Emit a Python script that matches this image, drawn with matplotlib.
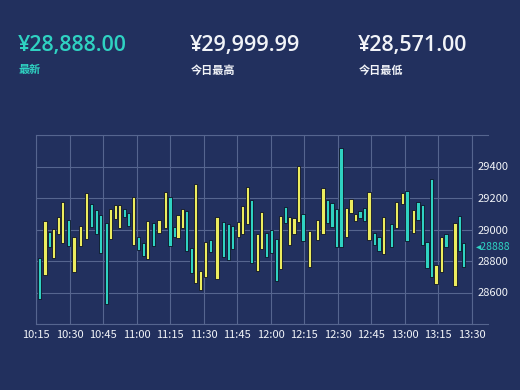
import matplotlib.pyplot as plt

# candle times (HH:MM:SS), open, close
times = ["10:16:30", "10:19:00", "10:21:00", "10:23:00", "10:25:00", "10:27:00", "10:29:30", "10:32:00",
         "10:35:00", "10:37:30", "10:40:00", "10:42:00", "10:44:00", "10:46:30", "10:48:30", "10:50:30",
         "10:52:30", "10:54:30", "10:56:30", "10:58:30", "11:01:00", "11:03:00", "11:05:00", "11:07:30",
         "11:10:00", "11:13:00", "11:15:00", "11:17:00", "11:18:30", "11:20:30", "11:22:30", "11:24:30",
         "11:26:30", "11:28:30", "11:31:00", "11:33:00", "11:36:00", "11:39:00", "11:41:00", "11:43:00",
         "11:45:30", "11:47:30", "11:49:30", "11:51:30", "11:54:00", "11:56:00", "11:58:00", "12:00:30",
         "12:02:30", "12:04:30", "12:06:30", "12:08:30", "12:10:30", "12:12:30", "12:14:30", "12:17:30",
         "12:21:00", "12:23:30", "12:25:30", "12:27:30", "12:29:30", "12:31:30", "12:34:00", "12:36:00",
         "12:38:00", "12:40:00", "12:42:00", "12:44:00", "12:46:30", "12:48:30", "12:50:30", "12:54:00",
         "12:56:30", "12:59:00", "13:01:00", "13:04:00", "13:06:00", "13:08:00", "13:10:00", "13:12:00",
         "13:14:00", "13:16:30", "13:18:30", "13:22:30", "13:24:30", "13:26:30"]
opens = [28817, 28711, 28986, 28821, 28970, 28912, 29058, 28728, 28895, 28938, 29160, 29122, 29090, 29039,
         28942, 29065, 29008, 29130, 29103, 28900, 28952, 28917, 28813, 29039, 28976, 29008, 29208, 29018,
         28948, 29011, 29119, 28881, 28658, 28616, 28697, 28933, 28684, 29050, 29033, 29022, 28950, 28970,
         29035, 29187, 28737, 28874, 28976, 28997, 28940, 28747, 29141, 28900, 28970, 29050, 29097, 28760,
         28933, 28970, 29185, 29170, 29128, 29516, 28954, 29103, 29056, 29119, 29135, 28933, 28976, 28954,
         28844, 29035, 29011, 29162, 29244, 28980, 29177, 29156, 28919, 29319, 28654, 28732, 28970, 28641,
         29086, 28916]
closes = [28557, 29054, 28887, 29001, 29077, 29175, 28895, 28954, 29022, 29230, 29014, 28971, 28853, 28530,
          29128, 29156, 29156, 29081, 29022, 29204, 28870, 28829, 29054, 28895, 29060, 29236, 28895, 28954,
          29092, 29130, 28865, 28726, 29287, 28737, 28919, 28857, 29081, 28827, 28806, 28878, 29050, 29149,
          29268, 28785, 28970, 29109, 28827, 28849, 28675, 29086, 29039, 29077, 29075, 29405, 28929, 28990,
          29060, 29262, 29043, 29014, 28887, 28887, 29138, 29192, 29098, 29073, 29056, 29240, 28902, 28865,
          29077, 28887, 29177, 29230, 28929, 29124, 29060, 28902, 28757, 28697, 28775, 28950, 28891, 29039,
          28865, 28764]

tick_labels = ["10:15", "10:30", "10:45", "11:00", "11:15", "11:30", "11:45",
               "12:00", "12:15", "12:30", "12:45", "13:00", "13:15", "13:30"]
y_ticks = [28400, 28600, 28800, 29000, 29200, 29400, 29600]

prices = ["¥28,888.00", "¥29,999.99", "¥28,571.00"]
price_names = ["最新", "今日最高", "今日最低"]
latest = 28888

bg = "#22305e"
grid_c = "#56658f"
up_c = "#ecec5e"
down_c = "#2fd2c2"
cjk = ["Noto Sans CJK SC", "DejaVu Sans"]


def to_min(t):
    p = [int(v) for v in t.split(":")]
    return (p[0] * 60 + p[1] + p[2] / 60) - (10 * 60 + 15)


fig = plt.figure(figsize=(5.2, 3.9), dpi=100, facecolor=bg)

# header numbers
for i, (p, n) in enumerate(zip(prices, price_names)):
    x = [18, 190, 358][i] / 520
    c = down_c if i == 0 else "#f2f4f8"
    fig.text(x, 1 - 45 / 390, p, color=c, fontsize=15.5, family=["Open Sans", "DejaVu Sans"],
             fontweight="semibold", va="center", ha="left")
    fig.text(x + 1 / 520, 1 - 70 / 390, n, color=c, fontsize=8, family=cjk, fontweight="bold",
             va="center", ha="left")

ax = fig.add_axes([36 / 520, 66 / 390, 435.7 / 520, 189 / 390])
ax.set_facecolor(bg)

xs = [to_min(t) for t in times]
for x, o, c in zip(xs, opens, closes):
    col = up_c if c >= o else down_c
    ax.bar(x, c - o, bottom=o, width=1.45, color=col, edgecolor="#0d1226", linewidth=0.6, zorder=3)

ax.set_xlim(0, 195)
ax.set_ylim(28400, 29600)
ax.set_xticks(range(0, 196, 15))
ax.set_xticklabels(tick_labels)
ax.set_yticks(y_ticks)
ax.set_yticklabels(["" if v in (28400, 29600) else str(v) for v in y_ticks])
ax.yaxis.tick_right()
ax.tick_params(length=0, colors="#f2f4f8", labelsize=8, pad=4)
for lab in ax.get_xticklabels() + ax.get_yticklabels():
    lab.set_family(cjk)
    lab.set_fontweight("medium")
ax.grid(True, color=grid_c, linewidth=0.8)
for s in ax.spines.values():
    s.set_color(grid_c)
    s.set_linewidth(0.8)

# top / bottom lines run on past the last time line
for yy in (0, 1):
    ax.plot([1, 1.0375], [yy, yy], transform=ax.transAxes, color=grid_c, lw=0.8, clip_on=False)

ax.text(1.01, latest, "◂28888", color=down_c, fontsize=7.5, family=cjk,
        va="center", ha="left", transform=ax.get_yaxis_transform())

fig.savefig("out.png", dpi=100, facecolor=bg)
